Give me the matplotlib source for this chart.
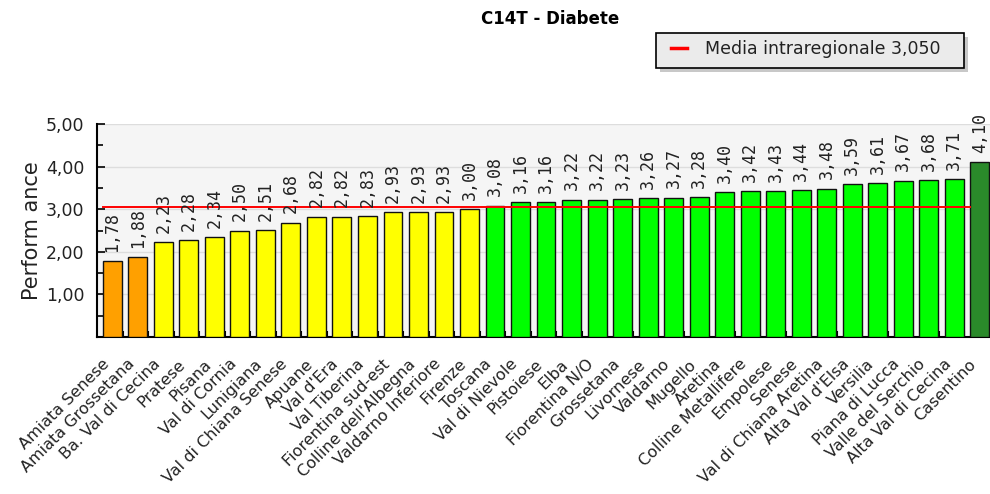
import matplotlib
matplotlib.use("Agg")
import matplotlib.pyplot as plt
import matplotlib.transforms as mtrans
from matplotlib.patches import Rectangle

# dati
zone = ["Amiata Senese", "Amiata Grossetana", "Ba. Val di Cecina", "Pratese", "Pisana",
        "Val di Cornia", "Lunigiana", "Val di Chiana Senese", "Apuane", "Val d'Era",
        "Val Tiberina", "Fiorentina sud-est", "Colline dell'Albegna", "Valdarno Inferiore",
        "Firenze", "Toscana", "Val di Nievole", "Pistoiese", "Elba", "Fiorentina N/O",
        "Grossetana", "Livornese", "Valdarno", "Mugello", "Aretina", "Colline Metallifere",
        "Empolese", "Senese", "Val di Chiana Aretina", "Alta Val d'Elsa", "Versilia",
        "Piana di Lucca", "Valle del Serchio", "Alta Val di Cecina", "Casentino"]
valori = [1.78, 1.88, 2.23, 2.28, 2.34, 2.50, 2.51, 2.68, 2.82, 2.82, 2.83, 2.93, 2.93,
          2.93, 3.00, 3.08, 3.16, 3.16, 3.22, 3.22, 3.23, 3.26, 3.27, 3.28, 3.40, 3.42,
          3.43, 3.44, 3.48, 3.59, 3.61, 3.67, 3.68, 3.71, 4.10]
classi = ["o", "o"] + ["y"] * 13 + ["g"] * 19 + ["d"]
media = 3.050
yticks = [1, 2, 3, 4, 5]

colori = {"o": "#FFA000", "y": "#FFFF00", "g": "#00FF00", "d": "#2A8A2A"}

fig = plt.figure(figsize=(9.9, 4.94), dpi=100)
ax = fig.add_axes([97 / 990, 1 - 337 / 494, 1 - 97 / 990, 213 / 494])
ax.set_facecolor("#F5F5F5")

x = list(range(len(valori)))
for i, v in enumerate(valori):
    ax.bar(i, v, width=0.74, color=colori[classi[i]], edgecolor="#111111", linewidth=1.0,
           zorder=3)
    ax.text(i, v + 0.22, f"{v:.2f}".replace(".", ","), rotation=90, ha="center",
            va="bottom", fontsize=12, family="DejaVu Sans Mono", color="#222222",
            clip_on=False, zorder=5)

ax.plot([-0.37, len(valori) - 1.37], [media, media], color="red", lw=1.4, zorder=4)

ax.set_xlim(-0.60, 34.08)
ax.set_ylim(0, 5)
ax.set_yticks(yticks)
ax.set_yticklabels([f"{t:.2f}".replace(".", ",") for t in yticks], fontsize=12.5,
                   color="#222222")
ax.set_yticks([0.5, 1.5, 2.5, 3.5, 4.5], minor=True)
ax.yaxis.grid(True, color="#DDDDDD", lw=1, zorder=0)
ax.tick_params(axis="y", direction="in", length=6, width=1.2, pad=9)
ax.tick_params(axis="y", which="minor", direction="in", length=4, width=1.2)
ax.set_xticks(x)
ax.set_xticklabels(zone, rotation=45, ha="right", va="top", rotation_mode="anchor",
                   fontsize=11.5, color="#222222")
ax.tick_params(axis="x", length=0, pad=14)
shift = mtrans.ScaledTranslation(-11 / 100, 0, fig.dpi_scale_trans)
for lab in ax.get_xticklabels():
    lab.set_transform(lab.get_transform() + shift)
ax.set_xticks([i + 0.4 for i in x], minor=True)
ax.tick_params(axis="x", which="minor", direction="in", length=4, width=1.5)
for s in ["top", "right"]:
    ax.spines[s].set_visible(False)
ax.spines["left"].set_linewidth(1.5)
ax.spines["bottom"].set_linewidth(1.5)
ax.set_ylabel("Perform ance", fontsize=15, labelpad=3, color="#222222")

fig.text(550 / 990, 1 - 19 / 494, "C14T - Diabete", ha="center", va="center",
         fontsize=12, fontweight="bold")

# legenda
fig.patches.append(Rectangle((660 / 990, 1 - 72 / 494), 308 / 990, 35 / 494,
                             transform=fig.transFigure, facecolor="#C8C8C8",
                             edgecolor="none"))
fig.patches.append(Rectangle((656 / 990, 1 - 68 / 494), 308 / 990, 35 / 494,
                             transform=fig.transFigure, facecolor="#EBEBEB",
                             edgecolor="black", lw=1.2))
fig.lines.append(plt.Line2D([671 / 990, 687 / 990], [1 - 48 / 494, 1 - 48 / 494],
                            transform=fig.transFigure, color="red", lw=2.5))
fig.text(705 / 990, 1 - 49 / 494, f"Media intraregionale {media:.3f}".replace(".", ","),
         ha="left", va="center", fontsize=12.5, color="#222222")

fig.savefig("out.png", dpi=100)
